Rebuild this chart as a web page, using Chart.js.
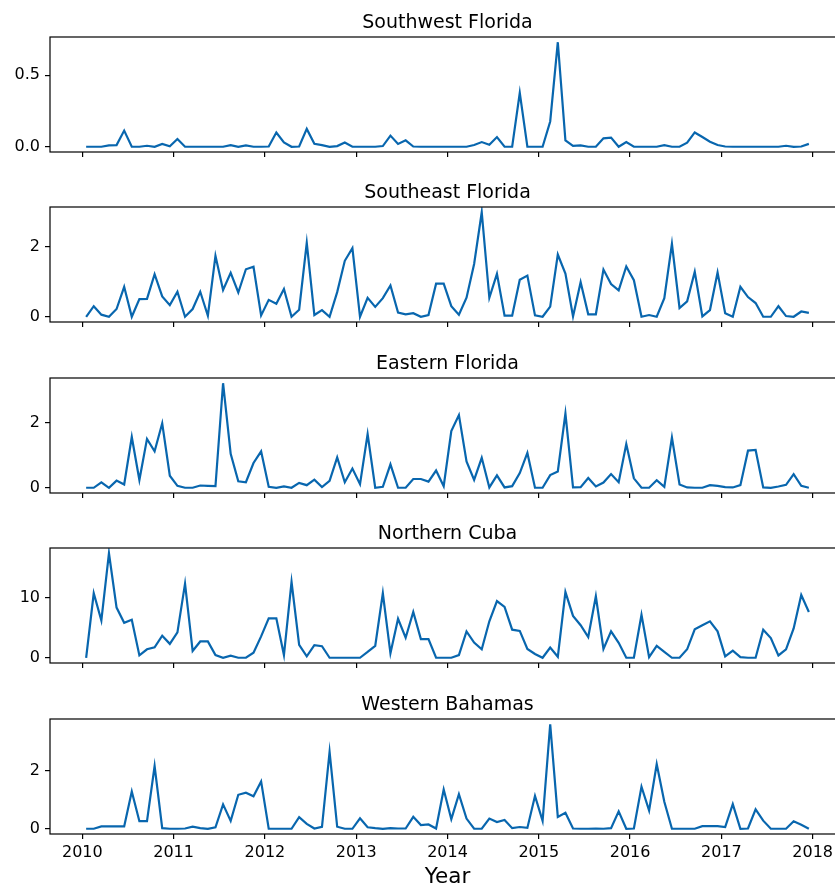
<!DOCTYPE html>
<html lang="en">
<head>
    <meta charset="UTF-8">
    <title>Monthly series by region</title>
    <style>
        body {
            margin: 0;
            background: #fff;
            width: 835px;
            height: 885px;
            overflow: hidden;
            position: relative;
        }
        canvas {
            position: absolute;
            left: 0;
        }
    </style>
</head>
<body>
    <canvas id="p0"></canvas>
    <canvas id="p1"></canvas>
    <canvas id="p2"></canvas>
    <canvas id="p3"></canvas>
    <canvas id="p4"></canvas>

    <script src="https://cdn.jsdelivr.net/npm/chart.js"></script>
    <script>
        // Data: monthly values, Jan 2010 .. Dec 2017
        const startYear = 2010;
        const monthCount = 96;
        const yearTicks = [2010, 2011, 2012, 2013, 2014, 2015, 2016, 2017, 2018];

        const southwestFlorida = [
            0, 0, 0, 0.01, 0.012, 0.113, 0, 0, 0.007, 0, 0.02, 0.003,
            0.054, 0, 0, 0, 0, 0, 0, 0.012, 0, 0.01, 0, 0,
            0.002, 0.1, 0.03, 0, 0.002, 0.125, 0.021, 0.012, 0, 0.005, 0.03, 0,
            0, 0, 0, 0.005, 0.078, 0.02, 0.045, 0.002, 0, 0, 0, 0,
            0, 0, 0, 0.012, 0.033, 0.014, 0.068, 0, 0, 0.377, 0, 0,
            0, 0.177, 0.731, 0.045, 0.007, 0.01, 0, 0, 0.059, 0.064, 0, 0.033,
            0, 0, 0, 0, 0.012, 0, 0, 0.028, 0.1, 0.068, 0.035, 0.012,
            0.002, 0, 0, 0, 0, 0, 0, 0, 0.007, 0, 0.002, 0.02
        ];
        const southeastFlorida = [
            0, 0.3, 0.06, 0, 0.22, 0.85, 0, 0.5, 0.51, 1.21, 0.58, 0.33,
            0.71, 0, 0.22, 0.71, 0.03, 1.73, 0.76, 1.25, 0.69, 1.35, 1.42, 0.04,
            0.48, 0.37, 0.79, 0, 0.2, 2.1, 0.05, 0.19, 0, 0.7, 1.59, 1.95,
            0, 0.54, 0.28, 0.53, 0.89, 0.12, 0.07, 0.1, 0, 0.05, 0.94, 0.94,
            0.3, 0.06, 0.54, 1.5, 2.97, 0.54, 1.22, 0.03, 0.03, 1.05, 1.17, 0.04,
            0, 0.29, 1.77, 1.23, 0.01, 0.98, 0.07, 0.07, 1.34, 0.93, 0.75, 1.43,
            1.04, 0, 0.05, 0, 0.53, 2.07, 0.25, 0.44, 1.28, 0.01, 0.19, 1.26,
            0.1, 0, 0.85, 0.56, 0.39, 0, 0, 0.3, 0.02, 0, 0.15, 0.11
        ];
        const easternFlorida = [
            0, 0, 0.17, 0, 0.22, 0.1, 1.56, 0.24, 1.5, 1.12, 1.98, 0.37,
            0.06, 0, 0, 0.07, 0.06, 0.05, 3.21, 1.04, 0.2, 0.17, 0.76, 1.12,
            0.03, 0, 0.04, 0, 0.15, 0.08, 0.25, 0.02, 0.21, 0.93, 0.17, 0.59,
            0.11, 1.65, 0, 0.03, 0.72, 0, 0, 0.27, 0.27, 0.19, 0.53, 0.05,
            1.74, 2.23, 0.81, 0.24, 0.92, 0.01, 0.38, 0.01, 0.05, 0.45, 1.07, 0,
            0, 0.39, 0.5, 2.28, 0.01, 0.02, 0.3, 0.04, 0.16, 0.42, 0.17, 1.34,
            0.29, 0, 0, 0.23, 0.03, 1.54, 0.1, 0.01, 0, 0, 0.08, 0.06,
            0.02, 0.01, 0.08, 1.14, 1.16, 0.01, 0, 0.04, 0.09, 0.42, 0.06, 0
        ];
        const northernCuba = [
            0, 10.8, 6.25, 17.5, 8.4, 5.85, 6.36, 0.4, 1.42, 1.76, 3.7, 2.33,
            4.26, 12.4, 1.14, 2.73, 2.73, 0.45, 0, 0.34, 0, 0, 0.85, 3.58,
            6.6, 6.6, 0.45, 12.7, 2.16, 0.23, 2.1, 1.93, 0, 0, 0, 0,
            0, 0.97, 2.0, 10.8, 0.74, 6.53, 3.35, 7.67, 3.13, 3.13, 0, 0,
            0, 0.45, 4.4, 2.55, 1.42, 6.1, 9.5, 8.5, 4.7, 4.5, 1.48, 0.63,
            0, 1.7, 0.17, 11.0, 7.0, 5.45, 3.47, 10.3, 1.48, 4.43, 2.5, 0,
            0, 7.2, 0.1, 2.0, 1.0, 0, 0, 1.42, 4.77, 5.45, 6.1, 4.43,
            0.23, 1.2, 0.1, 0, 0, 4.7, 3.3, 0.4, 1.42, 4.9, 10.5, 7.67
        ];
        const westernBahamas = [
            0, 0, 0.08, 0.08, 0.08, 0.08, 1.28, 0.26, 0.26, 2.16, 0.02, 0,
            0, 0.01, 0.07, 0.02, 0, 0.05, 0.84, 0.27, 1.17, 1.24, 1.12, 1.63,
            0, 0, 0, 0, 0.4, 0.17, 0.01, 0.07, 2.65, 0.07, 0, 0,
            0.36, 0.05, 0.02, 0, 0.02, 0.01, 0.01, 0.41, 0.13, 0.15, 0.01, 1.35,
            0.33, 1.19, 0.35, 0, 0, 0.35, 0.23, 0.3, 0.02, 0.06, 0.03, 1.13,
            0.27, 3.6, 0.41, 0.55, 0.01, 0, 0, 0.01, 0, 0.02, 0.6, 0,
            0.01, 1.45, 0.63, 2.23, 0.93, 0, 0, 0, 0, 0.09, 0.09, 0.09,
            0.06, 0.85, 0, 0.01, 0.67, 0.28, 0, 0, 0, 0.26, 0.14, 0
        ];

        // mid-month positions in decimal years
        const months = [];
        for (let i = 0; i < monthCount; i++) months.push(startYear + (i + 0.5) / 12);

        const panels = [
            { id: 'p0', title: 'Southwest Florida', data: southwestFlorida, yTicks: [0, 0.5], decimals: 1, top: 0 },
            { id: 'p1', title: 'Southeast Florida', data: southeastFlorida, yTicks: [0, 2], decimals: 0, top: 170 },
            { id: 'p2', title: 'Eastern Florida', data: easternFlorida, yTicks: [0, 2], decimals: 0, top: 341 },
            { id: 'p3', title: 'Northern Cuba', data: northernCuba, yTicks: [0, 10], decimals: 0, top: 511 },
            { id: 'p4', title: 'Western Bahamas', data: westernBahamas, yTicks: [0, 2], decimals: 0, top: 682, xLabel: 'Year' }
        ];

        const lineColor = '#0866ae';
        const fontFamily = '"DejaVu Sans", sans-serif';
        const plotTop = 37;
        const plotHeight = 115;
        const canvasWidth = 850;

        // frame around the plot area, panel title and x label
        const framePlugin = {
            id: 'frame',
            afterDraw(chart, args, opts) {
                const { ctx, chartArea: a } = chart;
                const cx = (a.left + a.right) / 2;
                ctx.save();
                ctx.strokeStyle = '#000';
                ctx.lineWidth = 1.2;
                ctx.strokeRect(a.left, a.top, a.right - a.left, a.bottom - a.top);
                ctx.fillStyle = '#000';
                ctx.textAlign = 'center';
                ctx.textBaseline = 'alphabetic';
                ctx.font = '19px ' + fontFamily;
                ctx.fillText(opts.text, cx, a.top - 9);
                if (opts.xLabel) {
                    ctx.font = '21.5px ' + fontFamily;
                    ctx.fillText(opts.xLabel, cx, chart.height - 2);
                }
                ctx.restore();
            }
        };

        // x range with matplotlib-like 5% margins
        const xSpan = months[months.length - 1] - months[0];
        const xMin = months[0] - 0.05 * xSpan;
        const xMax = months[months.length - 1] + 0.05 * xSpan;

        panels.forEach(p => {
            const canvas = document.getElementById(p.id);
            const last = !!p.xLabel;
            const xHeight = last ? 885 - p.top - plotTop - plotHeight : 20;
            const h = plotTop + plotHeight + xHeight;
            canvas.width = canvasWidth;
            canvas.height = h;
            canvas.style.width = canvasWidth + 'px';
            canvas.style.height = h + 'px';
            canvas.style.top = p.top + 'px';

            const hi = Math.max(...p.data);
            const lo = Math.min(...p.data);
            const pad = 0.05 * (hi - lo);

            new Chart(canvas.getContext('2d'), {
                type: 'line',
                data: {
                    datasets: [{
                        data: p.data.map((v, i) => ({ x: months[i], y: v })),
                        borderColor: lineColor,
                        borderWidth: 2.2,
                        pointRadius: 0,
                        tension: 0,
                        fill: false
                    }]
                },
                options: {
                    responsive: false,
                    devicePixelRatio: 1,
                    animation: false,
                    events: [],
                    layout: { padding: { top: plotTop, left: 0, right: 5, bottom: 0 } },
                    plugins: {
                        legend: { display: false },
                        tooltip: { enabled: false },
                        title: { display: false },
                        frame: { text: p.title, xLabel: p.xLabel }
                    },
                    scales: {
                        x: {
                            type: 'linear',
                            min: xMin,
                            max: xMax,
                            afterBuildTicks: s => { s.ticks = yearTicks.map(v => ({ value: v })); },
                            afterFit: s => { s.height = xHeight; },
                            grid: { display: true, drawOnChartArea: false, drawTicks: true, tickLength: 5, color: '#000', lineWidth: 1.2 },
                            border: { display: false },
                            ticks: {
                                display: last,
                                color: '#000',
                                padding: 4,
                                maxRotation: 0,
                                autoSkip: false,
                                font: { family: fontFamily, size: 16 },
                                callback: v => String(v)
                            }
                        },
                        y: {
                            min: lo - pad,
                            max: hi + pad,
                            afterBuildTicks: s => { s.ticks = p.yTicks.map(v => ({ value: v })); },
                            afterFit: s => { s.width = 50; },
                            grid: { display: true, drawOnChartArea: false, drawTicks: true, tickLength: 5, color: '#000', lineWidth: 1.2 },
                            border: { display: false },
                            ticks: {
                                color: '#000',
                                padding: 5,
                                font: { family: fontFamily, size: 16 },
                                callback: v => Number(v).toFixed(p.decimals)
                            }
                        }
                    }
                },
                plugins: [framePlugin]
            });
        });
    </script>
</body>
</html>
